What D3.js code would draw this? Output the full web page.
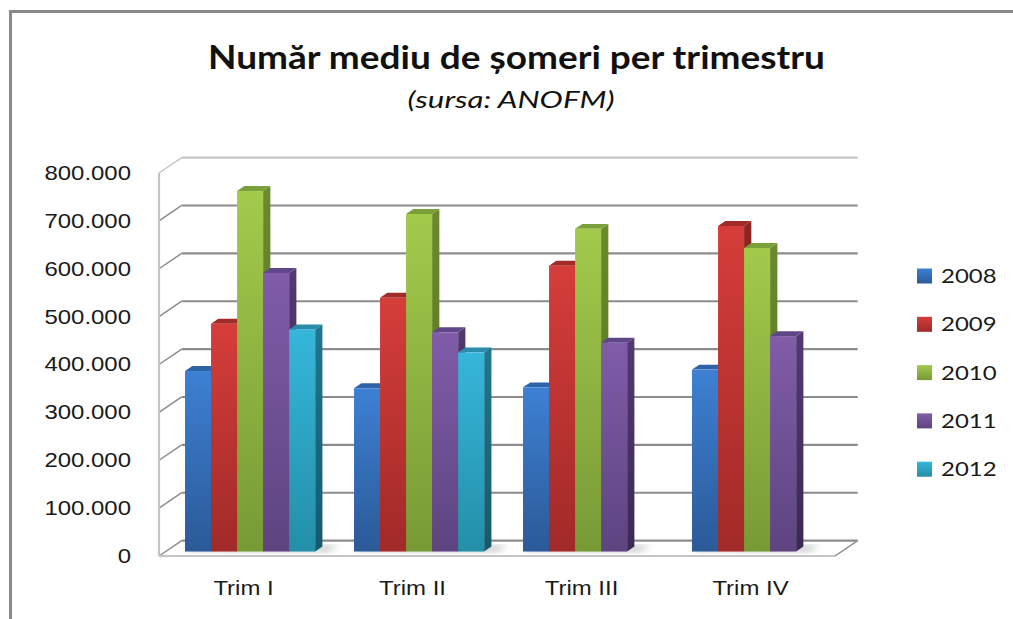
<!DOCTYPE html>
<html>
<head>
<meta charset="utf-8">
<title>Număr mediu de șomeri per trimestru</title>
<script src="https://d3js.org/d3.v7.min.js"></script>
<style>
  body { margin: 0; background: #fff; }
  svg { display: block; font-family: Lato, "Open Sans", sans-serif; }
</style>
</head>
<body>
<svg width="1013" height="619"></svg>
<script>
// data
const quarters = ["Trim I", "Trim II", "Trim III", "Trim IV"];
const years = ["2008", "2009", "2010", "2011", "2012"];
const v2008 = [377000, 341000, 343000, 380000];
const v2009 = [476000, 530000, 597000, 680000];
const v2010 = [753000, 705000, 674000, 634000];
const v2011 = [582000, 458000, 436000, 450000];
const v2012 = [464000, 416000, null, null];
const yTicks = [0, 100000, 200000, 300000, 400000, 500000, 600000, 700000, 800000];

const series = [v2008, v2009, v2010, v2011, v2012];
const colors = {
  "2008": { top: "#3d80d3", bot: "#2b5a98", side: "#28528a", side2: "#1f3f6b", cap: "#2f63a8" },
  "2009": { top: "#d53d3a", bot: "#a12a28", side: "#8d2421", side2: "#6c1a19", cap: "#a02b29" },
  "2010": { top: "#a3ca4b", bot: "#789a36", side: "#6a8a2d", side2: "#52701f", cap: "#7aa03a" },
  "2011": { top: "#805ca9", bot: "#5d4480", side: "#52396f", side2: "#3b2954", cap: "#604589" },
  "2012": { top: "#36b6db", bot: "#238fa8", side: "#1f778e", side2: "#16596b", cap: "#2a8bab" }
};

const svg = d3.select("svg");
const W = +svg.attr("width");

// oblique 3d: full depth vector
const DX = 22.7, DY = 15.4;
const T0 = 0.29, T1 = 0.61; // bar front / back depth

const x = d3.scaleBand().domain(quarters).range([159, 835]);
const y = d3.scaleLinear().domain([0, 800000]).range([556, 173]);
const groupW = x.bandwidth() * 0.77;
const xs = d3.scaleBand().domain(years).range([0, groupW]);
const gOff = (x.bandwidth() - groupW) / 2;

const P = (px, py, t) => [px + t * DX, py - t * DY];
const poly = pts => pts.map(p => p.join(",")).join(" ");

const defs = svg.append("defs");
years.forEach(yr => {
  const c = colors[yr];
  const gf = defs.append("linearGradient").attr("id", "f" + yr)
    .attr("x1", 0).attr("y1", 0).attr("x2", 0).attr("y2", 1);
  gf.append("stop").attr("offset", 0).attr("stop-color", c.top);
  gf.append("stop").attr("offset", 1).attr("stop-color", c.bot);
  const gs = defs.append("linearGradient").attr("id", "s" + yr)
    .attr("x1", 0).attr("y1", 0).attr("x2", 0).attr("y2", 1);
  gs.append("stop").attr("offset", 0).attr("stop-color", c.side);
  gs.append("stop").attr("offset", 1).attr("stop-color", c.side2);
});
defs.append("filter").attr("id", "blur")
  .append("feGaussianBlur").attr("stdDeviation", 3);

// outer frame (only top and left visible)
svg.append("path")
  .attr("d", `M10.5,${619} L10.5,11.5 L${W},11.5`)
  .attr("fill", "none").attr("stroke", "#8a8a8a").attr("stroke-width", 3);

// walls and floor
const x0 = x.range()[0], x1 = x.range()[1];
const walls = svg.append("g");
yTicks.forEach(v => {
  const top = v === 800000;
  const a = P(x0, y(v), 0), b = P(x0, y(v), 1), c = P(x1, y(v), 1);
  walls.append("line")
    .attr("x1", b[0]).attr("y1", b[1]).attr("x2", c[0]).attr("y2", c[1])
    .attr("stroke", top ? "#c4c4c4" : "#8c8c8c").attr("stroke-width", 2.2);
  walls.append("line")
    .attr("x1", a[0]).attr("y1", a[1]).attr("x2", b[0]).attr("y2", b[1])
    .attr("stroke", top ? "#c4c4c4" : "#8c8c8c").attr("stroke-width", 1.5);
});
// left wall front edge
walls.append("line")
  .attr("x1", x0).attr("y1", y(0)).attr("x2", x0).attr("y2", y(800000))
  .attr("stroke", "#c4c4c4").attr("stroke-width", 2.2);
// floor front and right edge
const fr = P(x1, y(0), 1);
walls.append("line")
  .attr("x1", x0).attr("y1", y(0)).attr("x2", x1).attr("y2", y(0))
  .attr("stroke", "#c4c4c4").attr("stroke-width", 2.2);
walls.append("line")
  .attr("x1", x1).attr("y1", y(0)).attr("x2", fr[0]).attr("y2", fr[1])
  .attr("stroke", "#8c8c8c").attr("stroke-width", 1.5);

// soft shadows on the floor
const shadows = svg.append("g").attr("filter", "url(#blur)").attr("opacity", 0.35);
quarters.forEach((q, i) => {
  const n = series.filter(s => s[i] != null).length;
  const left = x(q) + gOff, right = left + xs.step() * n;
  shadows.append("polygon")
    .attr("points", poly([P(left, y(0), T0), P(right + 14, y(0), T0 - 0.05),
      P(right + 14, y(0), T1 + 0.1), P(left, y(0), T1 + 0.1)]))
    .attr("fill", "#777");
});

// bars, left to right so that later faces cover earlier sides
const bars = svg.append("g");
quarters.forEach((q, i) => {
  years.forEach((yr, j) => {
    const v = series[j][i];
    if (v == null) return;
    const l = x(q) + gOff + xs(yr), r = l + xs.bandwidth();
    const yt = y(v), yb = y(0);
    const g = bars.append("g");
    // side
    g.append("polygon")
      .attr("points", poly([P(r, yt, T0), P(r, yt, T1), P(r, yb, T1), P(r, yb, T0)]))
      .attr("fill", `url(#s${yr})`);
    // top
    g.append("polygon")
      .attr("points", poly([P(l, yt, T0), P(l, yt, T1), P(r, yt, T1), P(r, yt, T0)]))
      .attr("fill", colors[yr].cap);
    // front
    const f = P(l, yt, T0);
    g.append("rect")
      .attr("x", f[0]).attr("y", f[1])
      .attr("width", xs.bandwidth()).attr("height", yb - yt)
      .attr("fill", `url(#f${yr})`);
  });
});

// text helpers: horizontally stretched labels
const fontSize = 20;
const probe = svg.append("text").attr("font-size", fontSize).text("800.000");
const sx = 89 / probe.node().getComputedTextLength();
probe.remove();
const fmt = v => d3.format(",")(v).replace(/,/g, ".");

// y axis
const yAxis = svg.append("g")
  .attr("transform", "translate(131,0)")
  .call(d3.axisLeft(y).tickValues(yTicks).tickSize(0).tickPadding(0).tickFormat(fmt));
yAxis.select(".domain").remove();
yAxis.selectAll("text")
  .attr("font-size", fontSize).attr("font-family", null)
  .attr("fill", "#1a1a1a").attr("transform", `scale(${sx},1)`);

// x axis
const xAxis = svg.append("g")
  .attr("transform", "translate(0,581)")
  .call(d3.axisBottom(x).tickSize(0).tickPadding(0));
xAxis.select(".domain").remove();
xAxis.selectAll("text")
  .attr("font-size", fontSize).attr("font-family", null).attr("dy", "0.71em")
  .attr("fill", "#1a1a1a").attr("transform", `scale(${sx},1)`);

// legend
const legend = svg.append("g");
years.forEach((yr, j) => {
  const cy = 276 + j * 48.3;
  legend.append("rect")
    .attr("x", 917).attr("y", cy - 7.5).attr("width", 15).attr("height", 15)
    .attr("fill", `url(#f${yr})`);
  legend.append("text")
    .attr("transform", `translate(941,${cy}) scale(${sx},1)`)
    .attr("font-size", fontSize).attr("dy", "0.35em").attr("fill", "#1a1a1a")
    .text(yr);
});

// titles
function stretched(txt, cx, cy, size, weight, style, width) {
  const t = svg.append("text")
    .attr("font-size", size).attr("font-weight", weight).attr("font-style", style)
    .attr("text-anchor", "middle").attr("fill", "#111").text(txt);
  const k = width / t.node().getComputedTextLength();
  t.attr("transform", `translate(${cx},${cy}) scale(${k},1)`);
}
stretched("Număr mediu de șomeri per trimestru", 516.5, 69, 32, 700, "normal", 617);
stretched("(sursa: ANOFM)", 511, 108, 23, 400, "italic", 207);
</script>
</body>
</html>
